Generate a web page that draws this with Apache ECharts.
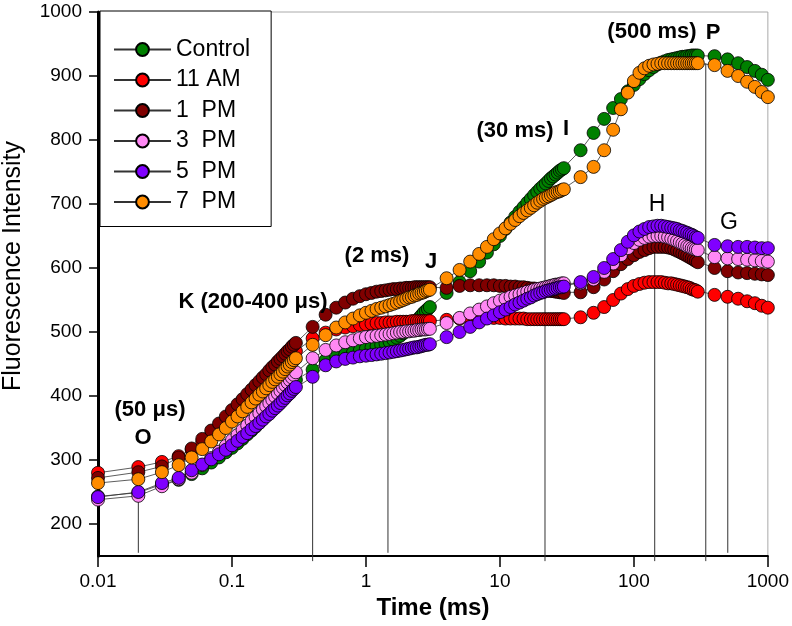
<!DOCTYPE html>
<html>
<head>
<meta charset="utf-8">
<script src="https://cdn.jsdelivr.net/npm/echarts@6/dist/echarts.min.js"></script>
<style>html,body{margin:0;padding:0;background:#fff}#c{width:792px;height:626px}</style>
</head>
<body>
<div id="c"></div>
<script>
const time = [
0.01,0.02,0.03,0.04,0.05,0.06,0.07,0.08,0.09,0.10,0.11,0.12,0.13,0.14,0.15,0.16,0.17,0.18,0.19,0.20,0.21,0.22,0.23,0.24,0.25,0.26,0.27,0.28,0.29,0.30,
0.4,0.5,0.6,0.7,0.8,0.9,1.0,1.1,1.2,1.3,1.4,1.5,1.6,1.7,1.8,1.9,2.0,2.1,2.2,2.3,2.4,2.5,2.6,2.7,2.8,2.9,3.0,
4,5,6,7,8,9,10,11,12,13,14,15,16,17,18,19,20,21,22,23,24,25,26,27,28,29,30,
40,50,60,70,80,90,100,110,120,130,140,150,160,170,180,190,200,210,220,230,240,250,260,270,280,290,300,
400,500,600,700,800,900,1000];

const control = [
243,249,262,269,278,287,296,304,312,319,326,333,340,346,352,358,364,370,375,380,385,390,395,400,404,409,413,417,421,425,
441,456,461,465,468,471,474,476,478,480,482,485,488,491,494,498,502,506,510,514,518,522,526,530,533,536,539,
561,578,595,610,624,637,650,661,671,680,688,695,702,708,714,719,724,728,732,736,740,743,746,749,752,754,756,
784,811,833,850,864,876,886,895,903,909,914,918,921,923,925,926,927,928,929,930,930,931,931,932,932,932,932,
931,926,920,914,908,902,894];

const am11 = [
280,289,297,306,316,328,340,350,360,369,377,385,392,399,405,411,417,422,427,432,437,441,445,449,453,457,460,464,467,470,
490,499,504,507,509,511,512,513,514,514,515,515,515,516,516,516,516,516,517,517,517,517,517,517,517,517,517,
519,521,522,522,522,522,522,521,521,521,521,521,520,520,520,520,520,520,520,520,520,520,520,520,520,520,520,
523,530,539,550,560,567,572,575,577,578,578,578,578,577,576,576,575,574,573,572,571,570,569,567,566,565,563,
558,555,552,548,545,541,538];

const pm1 = [
272,281,290,304,318,333,346,357,368,378,387,395,403,410,417,423,429,434,440,445,449,454,458,462,466,470,473,477,480,483,
508,527,538,546,552,556,559,561,563,564,565,566,567,567,568,568,569,569,569,570,570,570,570,570,570,570,570,
569,572,573,573,573,573,572,572,571,571,570,570,569,568,568,567,566,566,565,565,564,564,563,563,562,562,561,
562,570,582,595,606,614,620,625,628,631,633,633,633,633,632,631,629,627,625,623,621,619,617,615,613,611,609,
600,595,593,592,591,590,589];

const pm3 = [
238,244,259,270,280,292,303,313,322,331,339,347,354,361,367,373,379,384,389,394,399,404,408,413,417,421,425,429,433,437,
459,472,479,484,487,490,492,493,494,495,496,497,498,499,500,500,501,501,502,502,503,503,504,504,504,505,505,
514,522,529,535,540,545,549,552,555,557,559,561,563,564,566,567,568,569,570,571,572,573,574,574,575,576,576,
576,582,594,607,620,631,639,644,647,649,650,650,650,649,648,646,644,642,640,638,636,634,633,631,630,629,628,
617,615,614,613,612,611,610];

const pm5 = [
242,250,264,272,284,293,301,309,316,323,330,336,342,348,353,358,363,368,372,377,381,385,389,393,397,401,404,408,411,414,
430,448,454,458,460,462,463,464,465,466,467,468,469,470,471,472,473,474,475,476,476,477,478,479,480,480,481,
492,500,508,515,521,526,531,535,539,543,546,549,552,554,557,559,561,562,564,565,566,567,568,569,570,570,571,
578,586,600,614,628,641,651,657,661,664,665,666,666,665,664,663,662,661,659,658,656,655,653,652,650,648,647,
636,634,633,633,632,631,631];

const pm7 = [
264,270,281,292,304,317,329,340,350,360,368,376,383,390,396,402,407,412,417,422,426,430,434,438,442,446,449,453,456,459,
480,495,507,515,521,526,530,533,536,538,540,542,544,546,548,550,552,554,555,557,558,560,561,562,564,565,566,
584,597,610,622,633,645,654,662,669,675,681,686,690,694,698,702,705,708,710,712,714,716,718,719,720,722,723,
742,758,784,816,848,874,892,905,912,916,918,919,920,920,920,920,920,920,920,920,920,920,920,920,920,920,920,
917,908,900,891,883,875,867];

const seriesNames = ['Control', '11 AM', '1  PM', '3  PM', '5  PM', '7  PM'];
const seriesColors = ['#008000', '#ff0000', '#800000', '#ff88f4', '#8000ff', '#ff8c00'];
const seriesValues = [control, am11, pm1, pm3, pm5, pm7];

const xTickLabels = ['0.01', '0.1', '1', '10', '100', '1000'];
const yTickValues = [200, 300, 400, 500, 600, 700, 800, 900, 1000];

// phase marker drop lines: [time, top value, bottom value]
const dropLineTimes = [0.02, 0.4, 1.46, 21.7, 143, 344, 502];
const dropLineTops = [285, 508, 545, 715, 650, 920, 633];
const dropLineBottoms = [155, 142, 155, 142, 142, 142, 155];

const FONT = "'Liberation Sans', Arial, Helvetica, sans-serif";

const chart = echarts.init(document.getElementById('c'), null, {renderer: 'canvas'});

const series = [];
dropLineTimes.forEach((t, i) => {
  series.push({
    type: 'line', name: 'drop' + i, silent: true, clip: false,
    symbol: 'none', z: 1,
    lineStyle: {color: '#333', width: 1},
    data: [[t, dropLineTops[i]], [t, dropLineBottoms[i]]]
  });
});
seriesNames.forEach((n, i) => {
  series.push({
    type: 'line', name: n, z: 2,
    showAllSymbol: true, symbol: 'circle', symbolSize: 13,
    lineStyle: {color: '#333', width: 0.8},
    itemStyle: {color: seriesColors[i], borderColor: '#000', borderWidth: 0.8},
    emphasis: {disabled: true},
    data: time.map((t, k) => [t, seriesValues[i][k]])
  });
});

function txt(text, x, y, size, bold, rot) {
  return {
    type: 'text', x: x, y: y, rotation: rot || 0, z: 100,
    style: {text: text, fill: '#000', fontSize: size, fontWeight: bold ? 'bold' : 'normal',
      fontFamily: FONT, align: 'center', verticalAlign: 'middle'}
  };
}

chart.setOption({
  animation: false,
  backgroundColor: '#fff',
  grid: {left: 98, right: 24, top: 12, bottom: 70, show: true, borderColor: '#aaa', borderWidth: 1, backgroundColor: 'transparent'},
  xAxis: {
    type: 'log', logBase: 10, min: 0.01, max: 1000,
    axisLine: {show: true, lineStyle: {color: '#000', width: 2}},
    axisTick: {show: true, length: 11, inside: false, lineStyle: {color: '#000', width: 1.5}},
    minorTick: {show: false},
    splitLine: {show: false},
    axisLabel: {fontSize: 19, margin: 16, color: '#000', fontFamily: FONT,
      formatter: v => xTickLabels[Math.round(Math.log10(v)) + 2]},
    name: 'Time (ms)', nameLocation: 'middle', nameGap: 34,
    nameTextStyle: {fontSize: 24, fontWeight: 'bold', color: '#000', fontFamily: FONT}
  },
  yAxis: {
    type: 'value', min: 150, max: 1000,
    axisLine: {show: true, lineStyle: {color: '#000', width: 3}},
    axisTick: {show: true, length: 9, inside: false, customValues: yTickValues, lineStyle: {color: '#000', width: 1.5}},
    axisLabel: {fontSize: 19, margin: 16, color: '#000', fontFamily: FONT, customValues: yTickValues,
      formatter: v => String(v)},
    splitLine: {show: false}
  },
  legend: {
    data: seriesNames, orient: 'vertical', left: 100, top: 11,
    borderColor: '#000', borderWidth: 1, backgroundColor: '#fff',
    padding: [27, 21, 13, 13], itemWidth: 57, itemHeight: 16, itemGap: 7.5,
    textStyle: {fontSize: 23, color: '#000', fontFamily: FONT},
    selectedMode: false
  },
  graphic: [
    txt('Fluorescence Intensity', 13, 266, 25, false, Math.PI / 2),
    txt('(50 μs)', 150, 410, 22, true),
    txt('O', 143, 438, 22, true),
    txt('K (200-400 μs)', 253, 302, 22, true),
    txt('(2 ms)', 377, 256, 22, true),
    txt('J', 431, 262, 22, true),
    txt('(30 ms)', 515, 131, 22, true),
    txt('I', 566, 129, 22, true),
    txt('(500 ms)', 652, 32, 22, true),
    txt('P', 713, 33, 22, true),
    txt('H', 657, 205, 23, false),
    txt('G', 729, 223, 23, false)
  ],
  series: series
});
</script>
</body>
</html>
